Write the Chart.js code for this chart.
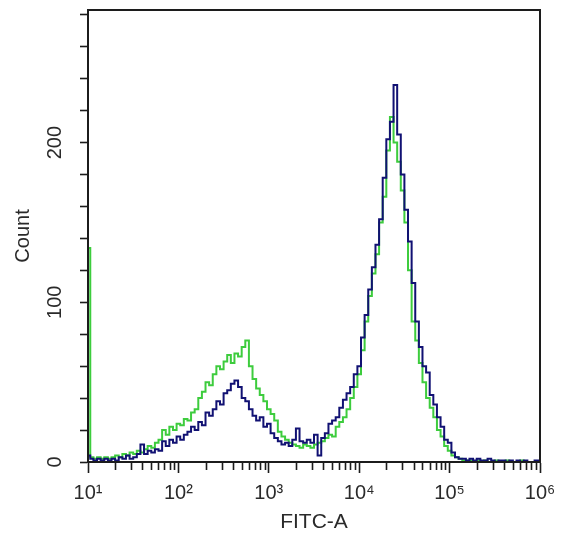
<!DOCTYPE html>
<html>
<head>
<meta charset="utf-8">
<script src="https://cdn.jsdelivr.net/npm/chart.js@4.4.1/dist/chart.umd.min.js"></script>
<style>
  html, body { margin: 0; padding: 0; background: #fff; }
  #wrap { width: 563px; height: 537px; position: relative; }
</style>
</head>
<body>
<div id="wrap"><canvas id="histo"></canvas></div>
<script>
// FITC-A channel, bin positions in log10 units
const fitcLog = [
  1.01, 1.04, 1.08, 1.12, 1.16, 1.20, 1.24, 1.28, 1.32, 1.36,
  1.40, 1.44, 1.48, 1.52, 1.56, 1.60, 1.64, 1.68, 1.72, 1.76,
  1.80, 1.84, 1.88, 1.92, 1.96, 2.00, 2.04, 2.08, 2.12, 2.16,
  2.20, 2.24, 2.28, 2.32, 2.36, 2.40, 2.44, 2.48, 2.52, 2.56,
  2.60, 2.64, 2.68, 2.72, 2.76, 2.80, 2.84, 2.88, 2.92, 2.96,
  3.00, 3.04, 3.08, 3.12, 3.16, 3.20, 3.24, 3.28, 3.32, 3.36,
  3.40, 3.44, 3.48, 3.52, 3.56, 3.60, 3.64, 3.68, 3.72, 3.76,
  3.80, 3.84, 3.88, 3.92, 3.96, 4.00, 4.04, 4.08, 4.12, 4.16,
  4.20, 4.24, 4.28, 4.32, 4.36, 4.40, 4.44, 4.48, 4.52, 4.56,
  4.60, 4.64, 4.68, 4.72, 4.76, 4.80, 4.84, 4.88, 4.92, 4.96,
  5.00, 5.04, 5.08, 5.12, 5.16, 5.20, 5.24, 5.28, 5.32, 5.36,
  5.40, 5.44, 5.48, 5.52, 5.56, 5.60, 5.64, 5.68, 5.72, 5.76,
  5.80, 5.84, 5.88, 5.92, 5.96, 6.00
];

// blue sample counts
const blueCounts = [
  4, 2, 1, 2, 1, 2, 1, 2, 1, 3,
  2, 4, 2, 3, 5, 11, 5, 7, 6, 8,
  7, 13, 10, 14, 12, 16, 14, 17, 19, 22,
  20, 25, 23, 31, 29, 33, 38, 36, 43, 45,
  49, 51, 47, 40, 38, 33, 29, 26, 28, 22,
  24, 18, 15, 13, 11, 12, 10, 14, 21, 13,
  12, 14, 12, 17, 4, 15, 18, 24, 26, 28,
  34, 39, 43, 47, 55, 60, 78, 92, 108, 122,
  136, 152, 178, 202, 213, 236, 205, 180, 158, 138,
  112, 88, 72, 60, 56, 42, 36, 28, 22, 14,
  12, 6, 3, 2, 2, 1, 2, 1, 2, 1,
  1, 2, 1, 0, 1, 1, 0, 1, 0, 1,
  0, 1, 0, 0, 1, 0
];

// green sample counts
const greenCounts = [
  134, 3, 2, 3, 2, 3, 2, 3, 4, 3,
  5, 4, 6, 5, 7, 6, 8, 10, 9, 12,
  14, 20, 17, 22, 20, 24, 23, 27, 26, 31,
  33, 40, 44, 50, 48, 55, 60, 58, 63, 67,
  62, 68, 66, 72, 76, 60, 52, 46, 42, 38,
  33, 30, 26, 19, 16, 14, 12, 11, 10, 9,
  11, 10, 9, 11, 12, 13, 15, 17, 16, 22,
  25, 28, 33, 40, 47, 55, 70, 88, 104, 118,
  130, 150, 166, 195, 216, 200, 188, 170, 150, 120,
  88, 76, 62, 50, 40, 34, 28, 20, 16, 10,
  7, 4, 3, 2, 1, 1, 1, 0, 1, 0,
  1, 0, 0, 1, 0, 0, 1, 0, 0, 0,
  1, 0, 0, 0, 0, 0
];

const decadeTicks = [1, 2, 3, 4, 5, 6];
const decadeLabels = ['10\u00B9', '10\u00B2', '10\u00B3', '10\u2074', '10\u2075', '10\u2076'];
const countTicks = [0, 20, 40, 60, 80, 100, 120, 140, 160, 180, 200, 220, 240, 260, 280];
const countLabels = ['0', '', '', '', '', '100', '', '', '', '', '200', '', '', '', ''];

const toPoints = counts => fitcLog.map((x, i) => ({ x: x, y: counts[i] }));

// 2..9 x 10^n minor marks on the log axis
const minorTicks = [];
for (let n = 1; n < 6; n++) {
  for (let k = 2; k <= 9; k++) minorTicks.push(n + Math.log10(k));
}

const frameAndMinor = {
  id: 'frameAndMinor',
  afterDraw(chart) {
    const { ctx, chartArea: a, scales } = chart;
    ctx.save();
    ctx.strokeStyle = '#1c1c1c';
    ctx.lineWidth = 1.6;
    minorTicks.forEach(v => {
      const px = Math.round(scales.x.getPixelForValue(v)) + 0.5;
      ctx.beginPath();
      ctx.moveTo(px, a.bottom);
      ctx.lineTo(px, a.bottom + 8);
      ctx.stroke();
    });
    ctx.lineWidth = 2;
    ctx.strokeRect(a.left, a.top, a.right - a.left, a.bottom - a.top);
    ctx.restore();
  }
};

new Chart(document.getElementById('histo'), {
  type: 'line',
  data: {
    datasets: [
      {
        label: 'Sample',
        data: toPoints(blueCounts),
        borderColor: '#111173',
        borderWidth: 2,
        stepped: 'middle',
        pointRadius: 0,
        fill: false
      },
      {
        label: 'Control',
        data: toPoints(greenCounts),
        borderColor: '#3dcc3d',
        borderWidth: 2,
        stepped: 'middle',
        pointRadius: 0,
        fill: false
      }
    ]
  },
  options: {
    responsive: true,
    maintainAspectRatio: false,
    animation: false,
    layout: { padding: { left: 0, top: 10, right: 23, bottom: 0 } },
    plugins: {
      legend: { display: false },
      tooltip: { enabled: false }
    },
    scales: {
      x: {
        type: 'linear',
        min: 1,
        max: 6,
        afterBuildTicks: s => { s.ticks = decadeTicks.map(v => ({ value: v })); },
        afterFit: s => { s.height = 75; s.paddingLeft = 0; s.paddingRight = 0; },
        ticks: {
          color: '#2a2a2a',
          font: { family: 'Liberation Sans, Arial, sans-serif', size: 20 },
          padding: 8,
          maxRotation: 0,
          autoSkip: false,
          callback: (v, i) => decadeLabels[i]
        },
        grid: {
          drawOnChartArea: false,
          tickLength: 11,
          tickColor: '#1c1c1c',
          tickWidth: 1.6
        },
        border: { color: '#1c1c1c', width: 2 },
        title: {
          display: true,
          text: 'FITC-A',
          color: '#2a2a2a',
          font: { family: 'Liberation Sans, Arial, sans-serif', size: 21 },
          padding: { top: 0, bottom: 2 }
        }
      },
      y: {
        min: 0,
        max: 283,
        afterBuildTicks: s => { s.ticks = countTicks.map(v => ({ value: v })); },
        afterFit: s => { s.width = 88; s.paddingTop = 0; s.paddingBottom = 0; },
        ticks: {
          color: '#2a2a2a',
          font: { family: 'Liberation Sans, Arial, sans-serif', size: 20 },
          padding: 8,
          minRotation: 90,
          maxRotation: 90,
          crossAlign: 'center',
          autoSkip: false,
          callback: (v, i) => countLabels[i]
        },
        grid: {
          drawOnChartArea: false,
          tickLength: 8,
          tickColor: '#1c1c1c',
          tickWidth: 1.6
        },
        border: { color: '#1c1c1c', width: 2 },
        title: {
          display: true,
          text: 'Count',
          color: '#2a2a2a',
          font: { family: 'Liberation Sans, Arial, sans-serif', size: 20 },
          padding: { top: 11, bottom: 0 }
        }
      }
    }
  },
  plugins: [frameAndMinor]
});
</script>
</body>
</html>
